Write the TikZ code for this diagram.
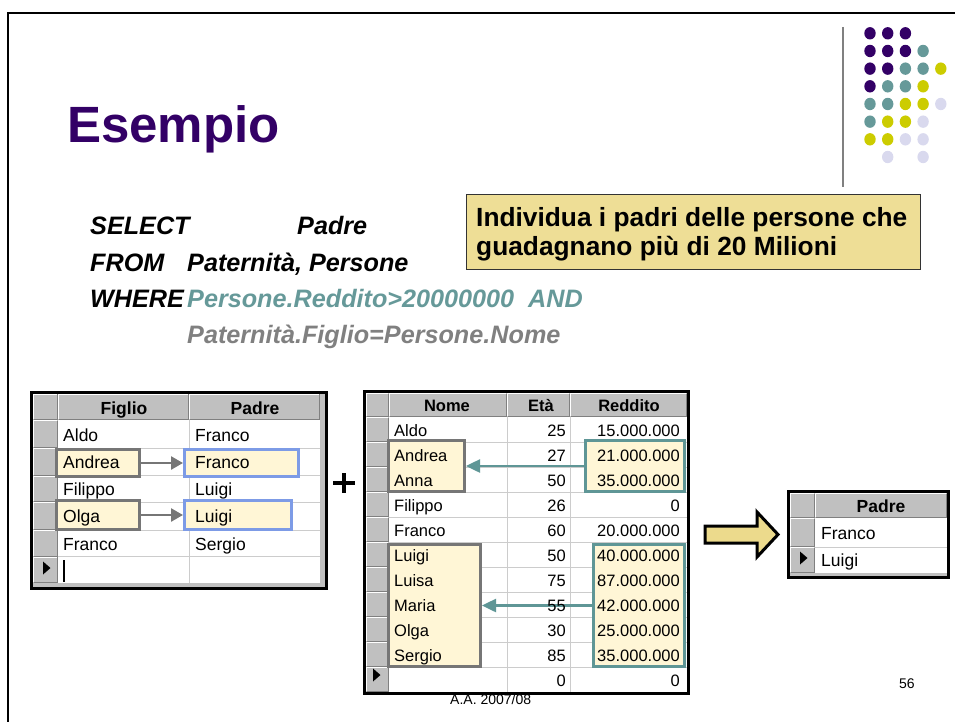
\documentclass[tikz,border=0pt]{standalone}
\usepackage{fontspec}
\setmainfont{Liberation Sans}
\usetikzlibrary{arrows.meta}

\definecolor{titlepurple}{RGB}{51,0,102}
\definecolor{dotteal}{RGB}{102,153,153}
\definecolor{dotyellow}{RGB}{204,204,0}
\definecolor{dotlilac}{RGB}{217,217,238}
\definecolor{notefill}{RGB}{238,222,150}
\definecolor{sqlteal}{RGB}{102,153,153}
\definecolor{sqlgray}{RGB}{128,128,128}
\definecolor{wingray}{RGB}{192,192,192}
\definecolor{windark}{RGB}{128,128,128}
\definecolor{gridgray}{RGB}{204,204,204}
\definecolor{hlfill}{RGB}{255,246,214}
\definecolor{hlgray}{RGB}{118,118,118}
\definecolor{hlblue}{RGB}{125,155,230}
\definecolor{hlteal}{RGB}{95,150,150}
\definecolor{arrowfill}{RGB}{236,218,140}

% raised grey cell of a datasheet (header or row selector)
\newcommand\wincell[4]{%
  \fill[wingray] (#1,#2) rectangle (#3,#4);
  \draw[white,line width=1pt] (#1+0.5,#4-1) -- (#1+0.5,#2+0.5) -- (#3-1,#2+0.5);
  \draw[windark,line width=1pt] (#1+0.5,#4-0.5) -- (#3-0.5,#4-0.5) -- (#3-0.5,#2+0.5);
}
% current-record marker in the row selector
\newcommand\selmark[2]{%
  \fill[black] (#1,#2-6.5) -- (#1+7.5,#2) -- (#1,#2+6.5) -- cycle;
}

\begin{document}
\begin{tikzpicture}[x=1pt,y=-1pt,
  cell/.style={font=\fontsize{17.5}{20}\selectfont, inner sep=0pt},
  cellsm/.style={font=\fontsize{16.5}{19}\selectfont, inner sep=0pt},
  head/.style={font=\fontsize{17.5}{20}\selectfont\bfseries, inner sep=0pt, anchor=base},
  headsm/.style={font=\fontsize{16.5}{19}\selectfont\bfseries, inner sep=0pt, anchor=base},
  sql/.style={font=\fontsize{25.2}{28}\selectfont\bfseries\itshape, inner sep=0pt, anchor=base west},
  notetext/.style={font=\fontsize{26.3}{30}\selectfont\bfseries, inner sep=0pt, anchor=base west},
  hl/.style={draw, line width=3pt, fill=hlfill, inner sep=0pt},
  hlarrow/.style={line width=2.5pt, -{Triangle[length=12pt,width=13pt]}},
]
\useasboundingbox (0,0) rectangle (955,722);

% slide frame
\draw[line width=2.2pt] (8,722) -- (8,13.3) -- (955,13.3);

% title
\node[font=\fontsize{51}{60}\selectfont\bfseries, text=titlepurple, anchor=base west, inner sep=0pt] (title) at (67,143) {Esempio};

% decoration: separator and dot grid
\draw[windark, line width=1.3pt] (843,27) -- (843,187);
\foreach \c/\r/\col in {
  0/0/titlepurple,1/0/titlepurple,2/0/titlepurple,
  0/1/titlepurple,1/1/titlepurple,2/1/titlepurple,3/1/dotteal,
  0/2/titlepurple,1/2/titlepurple,2/2/dotteal,3/2/dotteal,4/2/dotyellow,
  0/3/titlepurple,1/3/dotteal,2/3/dotteal,3/3/dotyellow,
  0/4/dotteal,1/4/dotteal,2/4/dotyellow,3/4/dotyellow,4/4/dotlilac,
  0/5/dotteal,1/5/dotyellow,2/5/dotyellow,3/5/dotlilac,
  0/6/dotyellow,1/6/dotyellow,2/6/dotlilac,3/6/dotlilac,
  1/7/dotlilac,3/7/dotlilac}
  \fill[\col] (870+17.7*\c,33.3+17.67*\r) ellipse [x radius=5.7pt, y radius=6.2pt];

% query
\node[sql] (sel) at (90,234) {SELECT};
\node[sql] (selp) at (297,234) {Padre};
\node[sql] (from) at (90,271) {FROM};
\node[sql] (froml) at (187,271) {Paternità, Persone};
\node[sql] (where) at (90,307) {WHERE};
\node[sql, text=sqlteal] (cond1) at (187,307) {Persone.Reddito>20000000\ \ AND};
\node[sql, text=sqlgray] (cond2) at (187,343) {Paternità.Figlio=Persone.Nome};

% note box
\node[draw=black!80, line width=1pt, fill=notefill, minimum width=454pt, minimum height=75pt, anchor=north west, inner sep=0pt] (note) at (466,194) {};
\node[notetext] (note1) at (476,226) {Individua i padri delle persone che};
\node[notetext] (note2) at (476,255) {guadagnano più di 20 Milioni};

% footer
\node[font=\fontsize{14}{16}\selectfont, anchor=base west, inner sep=0pt] (foot) at (450,704) {A.A. 2007/08};
\node[font=\fontsize{14}{16}\selectfont, anchor=base west, inner sep=0pt] (page) at (899,688) {56};

% ---------- table Paternita ----------
\fill[wingray] (30,391) rectangle (328,590);
\fill[white] (58,420) rectangle (320,583.3);
\foreach \y in {448.3,475.7,502.3,530,556.7} \draw[gridgray, line width=1pt] (58,\y) -- (320,\y);
\draw[gridgray, line width=1pt] (189,420) -- (189,583.3);
\wincell{33}{393.5}{58}{420}
\wincell{58}{393.5}{189}{420}
\wincell{189}{393.5}{320}{420}
\foreach \a/\b in {420/448.3,448.3/475.7,475.7/502.3,502.3/530,530/556.7,556.7/583.3} {\wincell{33}{\a}{58}{\b}}
\draw[line width=3pt] (31.5,392.5) rectangle (326.5,588.5);
\selmark{43}{568}
\draw[line width=1.5pt] (64,560) -- (64,582);

\node[hl, draw=hlgray, minimum width=83pt, minimum height=27pt] (fA) at (98,463) {};
\node[hl, draw=hlblue, minimum width=114pt, minimum height=27pt] (pA) at (241.5,463) {};
\node[hl, draw=hlgray, minimum width=83pt, minimum height=29pt] (fO) at (98,515) {};
\node[hl, draw=hlblue, minimum width=107pt, minimum height=29pt] (pO) at (238,515) {};
\draw[hlarrow, hlgray] (fA) -- (pA);
\draw[hlarrow, hlgray] (fO) -- (pO);

\node[head] (h1a) at (124,414) {Figlio};
\node[head] (h1b) at (255,414) {Padre};
\foreach \f/\p/\yb [count=\i] in {Aldo/Franco/441.7, Andrea/Franco/468.5, Filippo/Luigi/495.5, Olga/Luigi/522, Franco/Sergio/550} {
  \node[cell, anchor=base west] (pf\i) at (63,\yb) {\f};
  \node[cell, anchor=base west] (pp\i) at (195,\yb) {\p};
}

% plus sign
\draw[line width=4.2pt] (333,483) -- (355,483);
\draw[line width=4.2pt] (344,473) -- (344,493);

% ---------- table Persone ----------
\fill[wingray] (363,390) rectangle (690,695);
\fill[white] (389,417.3) rectangle (687,692.3);
\foreach \k in {0,...,9} \draw[gridgray, line width=1pt] (389,442.3+25*\k) -- (687,442.3+25*\k);
\draw[gridgray, line width=1pt] (507,417.3) -- (507,692.3);
\draw[gridgray, line width=1pt] (570,417.3) -- (570,692.3);
\wincell{366}{393}{389}{417.3}
\wincell{389}{393}{507}{417.3}
\wincell{507}{393}{570}{417.3}
\wincell{570}{393}{687}{417.3}
\foreach \k in {0,...,10} {\wincell{366}{417.3+25*\k}{389}{442.3+25*\k}}
\draw[line width=3pt] (364.5,391.5) rectangle (688.5,693.5);
\selmark{373}{675}

\node[hl, draw=hlgray, minimum width=76pt, minimum height=51pt] (nA) at (426.5,466) {};
\node[hl, draw=hlteal, minimum width=99pt, minimum height=51pt] (rA) at (635,466) {};
\node[hl, draw=hlgray, minimum width=92pt, minimum height=122pt] (nL) at (434.5,605.5) {};
\node[hl, draw=hlteal, minimum width=91pt, minimum height=122pt] (rL) at (639,605.5) {};
\draw[hlarrow, hlteal, -{Triangle[length=14pt,width=13pt]}] (rA) -- (nA);
\draw[hlarrow, hlteal, -{Triangle[length=14pt,width=13pt]}] (rL) -- (nL);

\node[headsm] (h2a) at (447,411) {Nome};
\node[headsm] (h2b) at (541,411) {Età};
\node[headsm] (h2c) at (629,411) {Reddito};
\foreach \n/\e/\r [count=\i from 0] in {Aldo/25/15.000.000, Andrea/27/21.000.000, Anna/50/35.000.000, Filippo/26/0, Franco/60/20.000.000, Luigi/50/40.000.000, Luisa/75/87.000.000, Maria/55/42.000.000, Olga/30/25.000.000, Sergio/85/35.000.000, /0/0} {
  \pgfmathsetmacro\yb{436.7+25*\i}
  \node[cellsm, anchor=base west] (pn\i) at (394,\yb) {\n};
  \node[cellsm, anchor=base east] (pe\i) at (566,\yb) {\e};
  \node[cellsm, anchor=base east] (pr\i) at (680,\yb) {\r};
}

% result arrow
\draw[line width=3pt, fill=arrowfill, line join=miter]
  (705,526) -- (757,526) -- (757,512) -- (778,534.5) -- (757,557) -- (757,543) -- (705,543) -- cycle;

% ---------- result table ----------
\fill[wingray] (787,490) rectangle (950,579);
\fill[white] (815,518) rectangle (947,573);
\draw[gridgray, line width=1pt] (815,547) -- (947,547);
\wincell{790}{493}{815}{518}
\wincell{815}{493}{947}{518}
\wincell{790}{518}{815}{547}
\wincell{790}{547}{815}{573}
\draw[line width=3pt] (788.5,491.5) rectangle (948.5,577.5);
\selmark{800}{558}
\node[head] (h3) at (881,512) {Padre};
\node[cell, anchor=base west] (res1) at (821,539) {Franco};
\node[cell, anchor=base west] (res2) at (821,566) {Luigi};
\end{tikzpicture}
\end{document}
